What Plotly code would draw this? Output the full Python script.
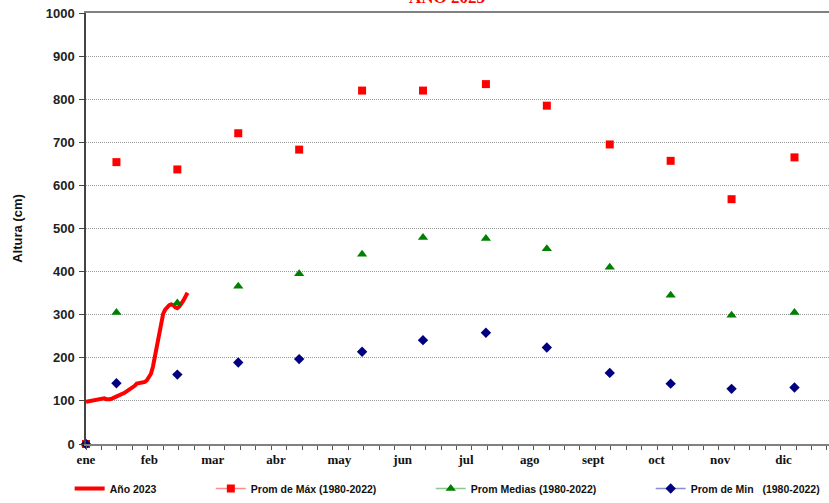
import plotly.graph_objects as go

# 2023 daily water level (cm), Jan 1 .. Feb 20
dias_2023 = list(range(0, 51))
altura_2023 = [98, 99, 100, 101, 101, 102, 103, 104, 105, 106,
               104, 103, 104, 106, 108, 110, 111, 113, 116, 119,
               122, 125, 128, 131, 135, 140, 141, 142, 142, 144,
               148, 154, 163, 180, 205, 232, 262, 287, 302, 312,
               318, 322, 324, 322, 317, 315, 319, 325, 333, 342,
               351]

# monthly averages 1980-2022 (first point is the origin of the sheet)
dias_prom = [0, 15, 45, 75, 105, 136, 166, 197, 227, 258, 288, 318, 349]
prom_max = [0, 654, 637, 721, 683, 820, 820, 835, 785, 695, 657, 568, 665]
prom_med = [0, 305, 327, 366, 395, 440, 479, 477, 453, 410, 345, 299, 305]
prom_min = [0, 141, 161, 189, 197, 214, 241, 258, 224, 165, 140, 128, 131]

meses = ["ene", "feb", "mar", "abr", "may", "jun", "jul", "ago", "sept", "oct", "nov", "dic"]
pos_meses = [0, 31.2, 62.4, 93.6, 124.8, 156, 187.2, 218.6, 249.8, 281, 312.4, 343.6]

fig = go.Figure()

fig.add_trace(go.Scatter(x=dias_2023, y=altura_2023, mode="lines", name="Año 2023",
                         line=dict(color="#ff0000", width=4), legend="legend"))

# markers only in the plot, legend entries drawn with a thin line like the original
series = [
    ("Prom de Máx (1980-2022)", prom_max, "#ff0000", "#ff8c8c", "square", 8, "legend2"),
    ("Prom Medias (1980-2022)", prom_med, "#008000", "#8cc88c", "triangle-up", 9, "legend3"),
    ("Prom de Min   (1980-2022)", prom_min, "#000080", "#8c8cd0", "diamond", 8, "legend4"),
]
for nombre, valores, color, claro, simbolo, tam, leg in series:
    fig.add_trace(go.Scatter(x=dias_prom, y=valores, mode="markers", name=nombre,
                             marker=dict(color=color, symbol=simbolo, size=tam),
                             showlegend=False, cliponaxis=False))
    fig.add_trace(go.Scatter(x=[None], y=[None], mode="lines+markers", name=nombre,
                             line=dict(color=claro, width=1.5),
                             marker=dict(color=color, symbol=simbolo, size=tam),
                             legend=leg))

leg_font = dict(family="Liberation Sans", size=10.5, color="#111", weight="bold")
leg_base = dict(orientation="h", yanchor="middle", y=-0.104, xanchor="left",
                font=leg_font, bgcolor="rgba(0,0,0,0)")

fig.update_layout(
    width=829, height=503,
    margin=dict(l=86, r=0, t=13, b=57),
    paper_bgcolor="white", plot_bgcolor="white",
    legend=dict(leg_base, x=-0.022),
    legend2=dict(leg_base, x=0.168),
    legend3=dict(leg_base, x=0.464),
    legend4=dict(leg_base, x=0.760),
    annotations=[dict(text="AÑO 2023", xref="paper", yref="paper", x=0.486, y=1,
                      xanchor="center", yanchor="bottom", yshift=4, showarrow=False,
                      font=dict(family="Liberation Serif", size=17, color="#ff0000", weight="bold"))],
)

fig.update_xaxes(
    range=[0, 366], showgrid=False, zeroline=False,
    showline=True, linecolor="#808080", linewidth=2, mirror=True,
    tickmode="array", tickvals=pos_meses, ticktext=meses,
    ticks="", ticklabelstandoff=2,
    tickfont=dict(family="Liberation Serif", size=13, color="#111", weight="bold"),
    minor=dict(tickmode="linear", tick0=0, dtick=7.604, ticks="outside", ticklen=4,
               tickcolor="#555", tickwidth=1, showgrid=False),
)

fig.update_yaxes(
    range=[0, 1000], dtick=100, zeroline=False,
    showgrid=True, gridcolor="#9a9a9a", griddash="1px,1px", gridwidth=1,
    showline=True, linecolor="#444", linewidth=1.5,
    ticks="outside", ticklen=5, tickcolor="#444", ticklabelstandoff=2,
    tickfont=dict(family="Liberation Sans", size=13, color="#222", weight="bold"),
    title=dict(text="Altura (cm)", standoff=20,
               font=dict(family="Liberation Sans", size=13, color="#111", weight="bold")),
)

# the page body has a default 8px margin; drop it so the figure fills the window
fig.write_html("out.html", config={"displayModeBar": False},
               post_script="document.body.style.margin='0';")
